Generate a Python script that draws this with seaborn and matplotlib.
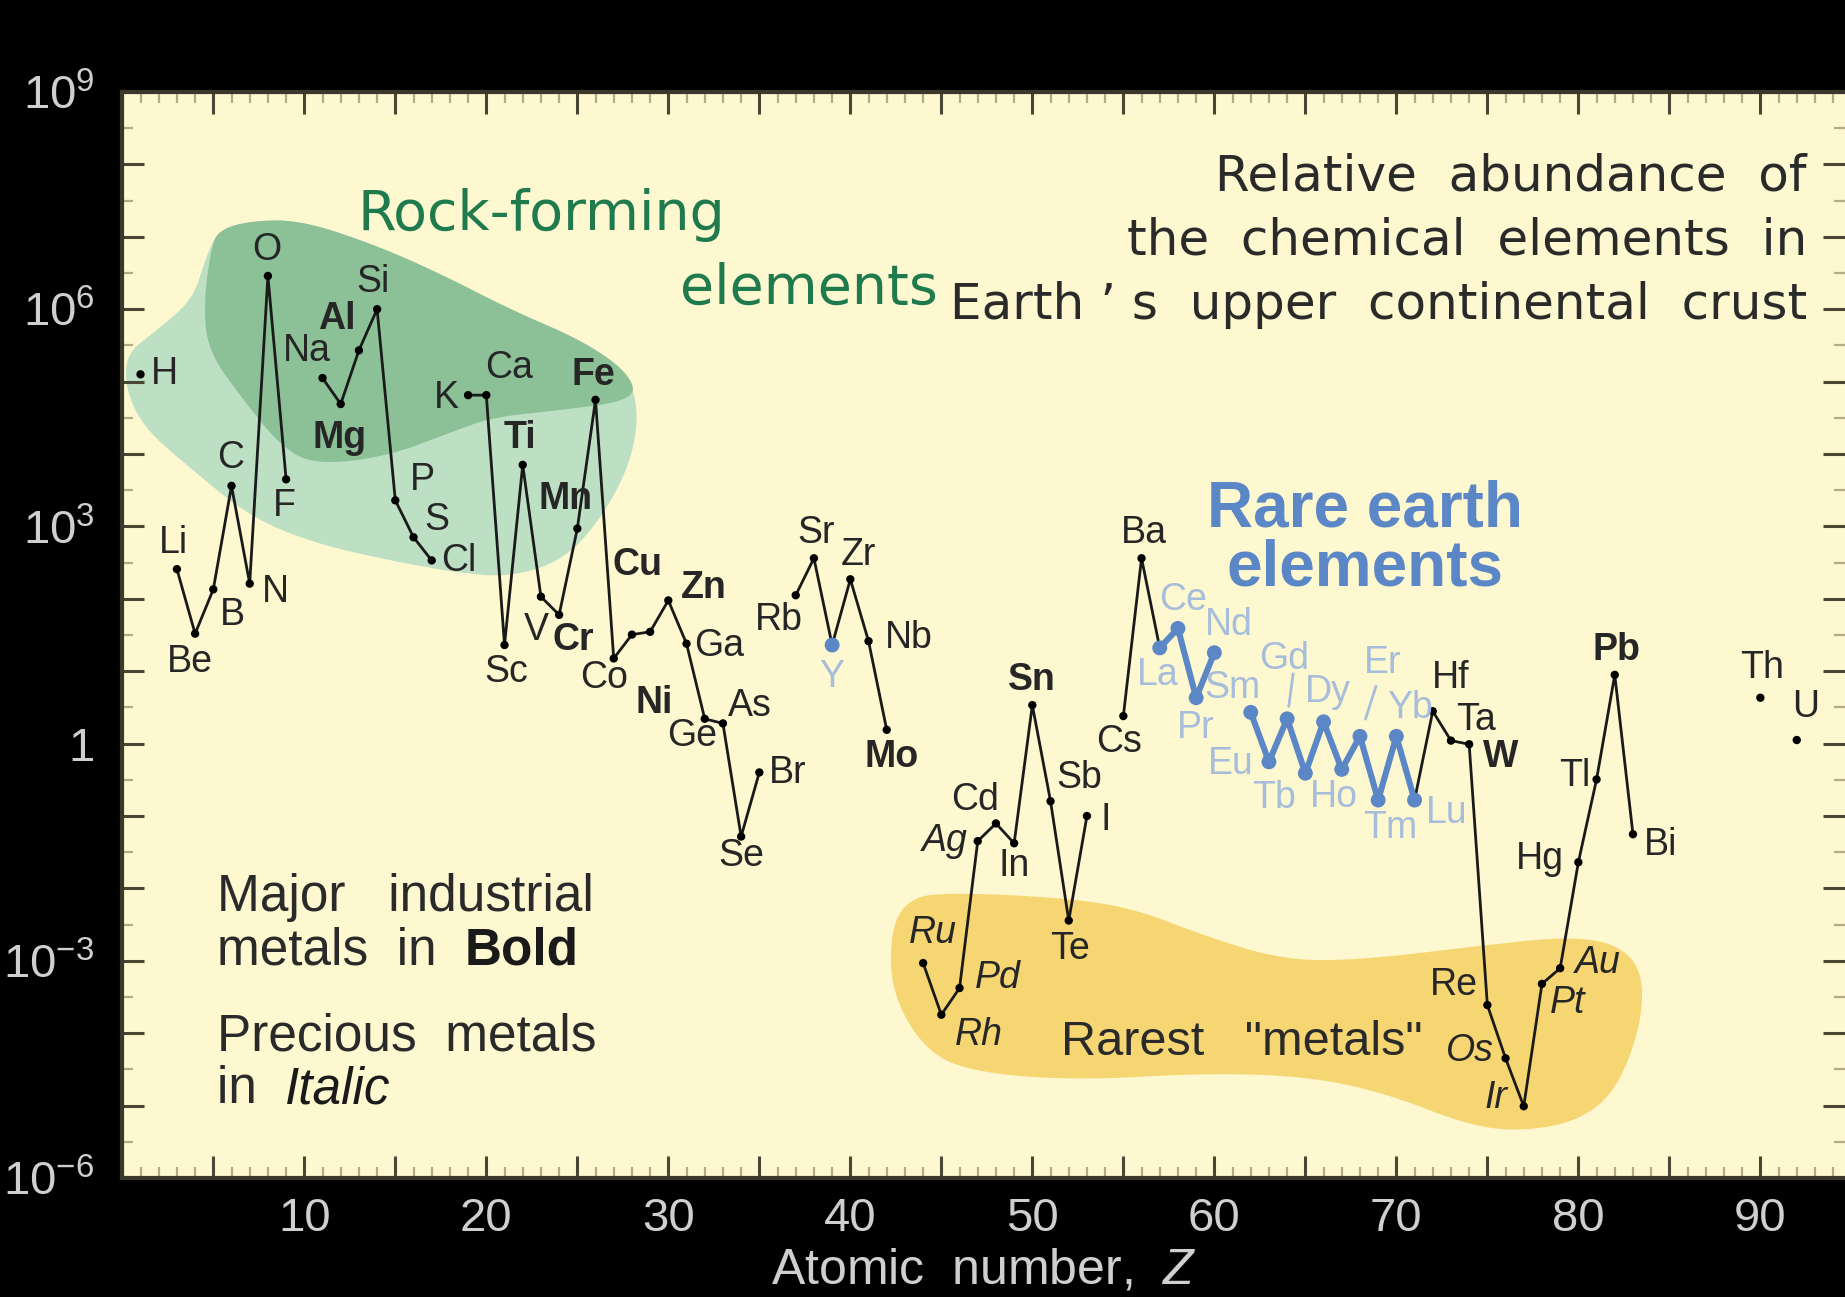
import numpy as np
import pandas as pd
import matplotlib
matplotlib.use("Agg")
import matplotlib.pyplot as plt
from matplotlib import font_manager
from matplotlib.ticker import FixedLocator, FuncFormatter, MultipleLocator
import seaborn as sns

# abundance in atoms per 10^6 atoms of Si
atomic_number = [1, 3, 4, 5, 6, 7, 8, 9,
                 11, 12, 13, 14, 15, 16, 17,
                 19, 20, 21, 22, 23, 24, 25, 26, 27, 28, 29, 30, 31, 32, 33, 34, 35,
                 37, 38, 39, 40, 41, 42,
                 44, 45, 46, 47, 48, 49, 50, 51, 52, 53,
                 55, 56, 57, 58, 59, 60, 62, 63, 64, 65, 66, 67, 68, 69, 70, 71,
                 72, 73, 74, 75, 76, 77, 78, 79, 80, 81, 82, 83,
                 90, 92]
symbol = ["H", "Li", "Be", "B", "C", "N", "O", "F",
          "Na", "Mg", "Al", "Si", "P", "S", "Cl",
          "K", "Ca", "Sc", "Ti", "V", "Cr", "Mn", "Fe", "Co", "Ni", "Cu", "Zn", "Ga", "Ge", "As", "Se", "Br",
          "Rb", "Sr", "Y", "Zr", "Nb", "Mo",
          "Ru", "Rh", "Pd", "Ag", "Cd", "In", "Sn", "Sb", "Te", "I",
          "Cs", "Ba", "La", "Ce", "Pr", "Nd", "Sm", "Eu", "Gd", "Tb", "Dy", "Ho", "Er", "Tm", "Yb", "Lu",
          "Hf", "Ta", "W", "Re", "Os", "Ir", "Pt", "Au", "Hg", "Tl", "Pb", "Bi",
          "Th", "U"]
abundance = [1.26e5, 257, 33, 135, 3630, 162, 2.88e6, 4470,
             1.12e5, 4.9e4, 2.7e5, 1.0e6, 2290, 708, 339,
             6.5e4, 6.5e4, 23, 7080, 107, 60, 933, 5.6e4, 15, 32, 35, 95, 24, 2.2, 1.9, 0.052, 0.40,
             112, 363, 23, 186, 26, 1.55,
             9.3e-4, 1.8e-4, 4.2e-4, 0.045, 0.079, 0.042, 3.4, 0.16, 3.6e-3, 0.10,
             2.4, 363, 21, 39, 4.3, 18, 2.7, 0.56, 2.2, 0.39, 2.0, 0.44, 1.26, 0.166, 1.26, 0.166,
             2.8, 1.1, 0.98, 2.45e-4, 4.5e-5, 9.8e-6, 4.8e-4, 7.9e-4, 0.023, 0.32, 8.9, 0.056,
             4.3, 1.12]

bold_metals = ["Al", "Mg", "Ti", "Mn", "Fe", "Cr", "Ni", "Cu", "Zn", "Mo", "Sn", "W", "Pb"]
precious_metals = ["Ru", "Rh", "Pd", "Ag", "Os", "Ir", "Pt", "Au"]
rare_earths = ["La", "Ce", "Pr", "Nd", "Sm", "Eu", "Gd", "Tb", "Dy", "Ho", "Er", "Tm", "Yb", "Lu"]
blue_points = rare_earths + ["Y"]

# runs of consecutive elements joined by a line (first Z, last Z)
black_runs = [(3, 9), (11, 17), (19, 35), (37, 42), (44, 53), (55, 57), (71, 83)]
blue_runs = [(57, 60), (62, 71)]

# label offsets from the point, in pixels (x right, y up)
label_offset = {
    "H": (24, 0), "Li": (-3, 26), "Be": (-5, -28), "B": (19, -26), "C": (-1, 28), "N": (26, -8),
    "O": (-1, 26), "F": (-2, -27), "Na": (-16, 27), "Mg": (-1, -34), "Al": (-22, 31), "Si": (-4, 27),
    "P": (27, 20), "S": (23, 17), "Cl": (27, -1), "K": (-22, -3), "Ca": (23, 27), "Sc": (2, -27),
    "Ti": (-3, 27), "V": (-5, -33), "Cr": (14, -25), "Mn": (-12, 30), "Fe": (-2, 25), "Co": (-10, -20),
    "Ni": (22, -68), "Cu": (-13, 67), "Zn": (35, 12), "Ga": (33, -2), "Ge": (-13, -17), "As": (27, 17),
    "Se": (0, -19), "Br": (28, -1), "Rb": (-17, -25), "Sr": (2, 25), "Y": (0, -32), "Zr": (8, 24),
    "Nb": (40, 3), "Mo": (5, -27), "Ru": (10, 30), "Rh": (38, -20), "Pd": (38, 10), "Ag": (-33, 0),
    "Cd": (-21, 23), "In": (0, -23), "Sn": (0, 25), "Sb": (29, 23), "Te": (1, -28), "I": (19, -4),
    "Cs": (-4, -26), "Ba": (2, 25), "La": (-2, -27), "Ce": (5, 28), "Pr": (-1, -30), "Nd": (14, 28),
    "Sm": (-18, 24), "Eu": (-38, -2), "Gd": (-3, 60), "Tb": (-31, -25), "Dy": (4, 30), "Ho": (-8, -28),
    "Er": (23, 73), "Tm": (12, -28), "Yb": (14, 28), "Lu": (32, -13), "Hf": (18, 33), "Ta": (25, 21),
    "W": (32, -13), "Re": (-33, 20), "Os": (-36, 7), "Ir": (-28, 8), "Pt": (26, -19), "Au": (38, 5),
    "Hg": (-38, 3), "Tl": (-22, 3), "Pb": (2, 25), "Bi": (28, -11), "Th": (2, 30), "U": (9, 33),
}
# slash-shaped leaders from far-off labels: top end offset (px), gap left at the point (pt)
leader = {"Gd": ((6, 45), 9), "Er": ((16, 50), 13)}

# shaded groups, outline in (Z, log10 abundance)
rock_outer = [(0.15, 4.93), (0.26, 5.39), (1.69, 5.67), (3.88, 6.13), (4.54, 6.68), (5.26, 7.09),
              (7.02, 7.22), (9.76, 7.23), (13.67, 6.91), (17.4, 6.5), (21.36, 5.99), (25.26, 5.57),
              (27.84, 5.12), (28.39, 4.51), (27.84, 3.82), (26.25, 3.09), (24.27, 2.54), (21.36, 2.3),
              (18.39, 2.36), (14.49, 2.54), (10.53, 2.77), (7.02, 3.13), (3.66, 3.82), (1.14, 4.37)]
rock_inner = [(4.49, 6.13), (4.87, 6.82), (5.26, 7.09), (7.02, 7.22), (9.76, 7.23), (13.67, 6.91),
              (17.4, 6.5), (21.36, 5.99), (25.26, 5.57), (27.84, 5.12), (28.23, 4.75), (24.27, 4.61),
              (20.37, 4.51), (18.39, 4.33), (14.49, 3.96), (10.53, 3.85), (8.66, 4.12), (6.64, 4.75),
              (4.66, 5.44)]
rare_metals = [(43.33, -2.12), (42.23, -2.53), (42.23, -3.44), (44.19, -4.27), (46.99, -4.55),
               (52.62, -4.65), (59.6, -4.55), (65.2, -4.6), (69.43, -4.83), (73.61, -5.24),
               (76.41, -5.36), (79.76, -5.24), (82.01, -4.83), (83.44, -3.91), (83.55, -3.13),
               (82.01, -2.75), (79.21, -2.67), (75.04, -2.78), (68.0, -2.99), (63.83, -2.99),
               (59.6, -2.67), (55.42, -2.26), (51.19, -2.12), (45.58, -2.06)]

title_lines = ["Relative  abundance  of", "the  chemical  elements  in",
               "Earth \u2019 s  upper  continental  crust"]

names = {f.name for f in font_manager.fontManager.ttflist}
sans = "Liberation Sans" if "Liberation Sans" in names else "DejaVu Sans"
narrow = "Liberation Sans Narrow" if "Liberation Sans Narrow" in names else sans
plt.rcParams["font.family"] = sans
plt.rcParams["mathtext.fontset"] = "custom"
plt.rcParams["mathtext.rm"] = narrow
plt.rcParams["mathtext.it"] = narrow + ":italic"

bg = "#fdf8cf"
ink = "#262626"
pale_blue = "#a6bddb"
ree_blue = "#5b87c6"
green_txt = "#1f7a4d"
axis_txt = "#cfcfcf"


def smooth_closed(pts, n=5):
    p = np.asarray(pts, float)
    for _ in range(n):
        q = np.roll(p, -1, axis=0)
        p = np.stack([0.75 * p + 0.25 * q, 0.25 * p + 0.75 * q], axis=1).reshape(-1, 2)
    return p


df = pd.DataFrame({"Z": atomic_number, "sym": symbol, "abund": abundance})

fig = plt.figure(figsize=(18.45, 12.97), dpi=100, facecolor="black")
ax = fig.add_axes([122.3 / 1845, 1 - 1178 / 1297, 1 - 122.3 / 1845, (1178 - 92) / 1297])
ax.set_facecolor(bg)
ax.set_yscale("log")
ax.set_xlim(0, 94.65)
ax.set_ylim(1e-6, 1e9)

for shape, col in [(rock_outer, "#bddfc4"), (rock_inner, "#8cc097"), (rare_metals, "#f6d673")]:
    s = smooth_closed(shape)
    ax.fill(s[:, 0], 10 ** s[:, 1], color=col, lw=0, zorder=1)

black = pd.concat([df[(df.Z >= a) & (df.Z <= b)].assign(run=i) for i, (a, b) in enumerate(black_runs)])
blue = pd.concat([df[(df.Z >= a) & (df.Z <= b)].assign(run=i) for i, (a, b) in enumerate(blue_runs)])
sns.lineplot(data=black, x="Z", y="abund", units="run", estimator=None, color="#1a1a1a",
             lw=2.0, ax=ax, legend=False, zorder=3)
sns.lineplot(data=blue, x="Z", y="abund", units="run", estimator=None, color=ree_blue,
             lw=4.4, ax=ax, legend=False, zorder=4)

is_blue = df.sym.isin(blue_points)
sns.scatterplot(data=df[~is_blue], x="Z", y="abund", color="black", s=36, edgecolor="none",
                ax=ax, legend=False, zorder=5)
sns.scatterplot(data=df[is_blue], x="Z", y="abund", color=ree_blue, s=115, edgecolor="none",
                ax=ax, legend=False, zorder=5)

for _, r in df.iterrows():
    dx, dy = label_offset[r.sym]
    col = pale_blue if r.sym in blue_points else ink
    ax.annotate(r.sym, (r.Z, r.abund), xytext=(dx, dy), textcoords="offset pixels",
                ha="center", va="center", fontsize=27, color=col,
                fontweight="bold" if r.sym in bold_metals else "normal",
                fontstyle="italic" if r.sym in precious_metals else "normal", zorder=6)
    if r.sym in leader:
        top, gap = leader[r.sym]
        ax.annotate("", (r.Z, r.abund), xytext=top, textcoords="offset pixels",
                    arrowprops=dict(arrowstyle="-", color=pale_blue, lw=2.0, shrinkA=0, shrinkB=gap),
                    zorder=6)

# group names and notes
ax.text(12.9, 10 ** 7.09, "Rock-forming", fontsize=40, color=green_txt, family="DejaVu Sans",
        va="baseline", ha="left", zorder=6)
ax.text(44.8, 10 ** 6.08, "elements", fontsize=40, color=green_txt, family="DejaVu Sans",
        va="baseline", ha="right", zorder=6)
for i, line in enumerate(title_lines):
    ax.text(92.56, 10 ** (7.64 - 0.89 * i), line, fontsize=36, color="#2a2a2a", family="DejaVu Sans",
            va="baseline", ha="right", zorder=6)
ax.text(68.3, 10 ** 3.0, "Rare earth", fontsize=46, color=ree_blue, fontweight="bold",
        va="baseline", ha="center", zorder=6)
ax.text(68.3, 10 ** 2.19, "elements", fontsize=46, color=ree_blue, fontweight="bold",
        va="baseline", ha="center", zorder=6)
ax.text(51.6, 10 ** -4.3, 'Rarest   "metals"', fontsize=35, color="#2a2a2a",
        va="baseline", ha="left", zorder=6)

ax.text(5.19, 10 ** -2.31, "Major   industrial", fontsize=37, color="#2a2a2a", va="baseline", zorder=6)
t = ax.text(5.19, 10 ** -3.05, "metals  in  ", fontsize=37, color="#2a2a2a", va="baseline", zorder=6)
ax.annotate("Bold", xy=(1, 0), xycoords=t, ha="left", va="bottom", fontsize=37,
            fontweight="bold", color="#1a1a1a", zorder=6)
ax.text(5.19, 10 ** -4.24, "Precious  metals", fontsize=37, color="#2a2a2a", va="baseline", zorder=6)
t = ax.text(5.19, 10 ** -4.97, "in  ", fontsize=37, color="#2a2a2a", va="baseline", zorder=6)
ax.annotate("Italic", xy=(1, 0), xycoords=t, ha="left", va="bottom", fontsize=37,
            fontstyle="italic", color="#1a1a1a", zorder=6)

# axes
ax.xaxis.set_major_locator(MultipleLocator(5))
ax.xaxis.set_minor_locator(MultipleLocator(1))
ax.xaxis.set_major_formatter(FuncFormatter(lambda v, p: f"{int(v)}" if v > 0 and int(v) % 10 == 0 else ""))
ax.yaxis.set_major_locator(FixedLocator([10.0 ** k for k in range(-6, 10)]))
ax.yaxis.set_minor_locator(FixedLocator([10.0 ** (k + 0.5) for k in range(-6, 9)]))


def ylab(v, p):
    k = int(round(np.log10(v)))
    if k % 3:
        return ""
    return "1" if k == 0 else r"$\mathregular{10^{%d}}$" % k


ax.yaxis.set_major_formatter(FuncFormatter(ylab))
ax.yaxis.set_minor_formatter(FuncFormatter(lambda v, p: ""))

ax.tick_params(which="major", direction="in", length=16, width=2.2, color="#4a4634",
               top=True, right=True, labelsize=34, labelcolor=axis_txt)
ax.tick_params(which="minor", direction="in", length=8, width=1.6, color="#b3ab84",
               top=True, right=True)
ax.tick_params(axis="x", pad=14)
ax.tick_params(axis="y", pad=20)
for lab in ax.get_xticklabels() + ax.get_yticklabels():
    lab.set_family(narrow)

for side in ["left", "bottom", "top"]:
    ax.spines[side].set_color("#3b382b")
    ax.spines[side].set_linewidth(3)
ax.spines["right"].set_visible(False)

ax.set_ylabel("")
ax.set_xlabel(r"Atomic  number,  $\mathit{Z}$", fontsize=36, color=axis_txt, family=narrow, labelpad=4)

fig.savefig("out.png", dpi=100, facecolor="black")
